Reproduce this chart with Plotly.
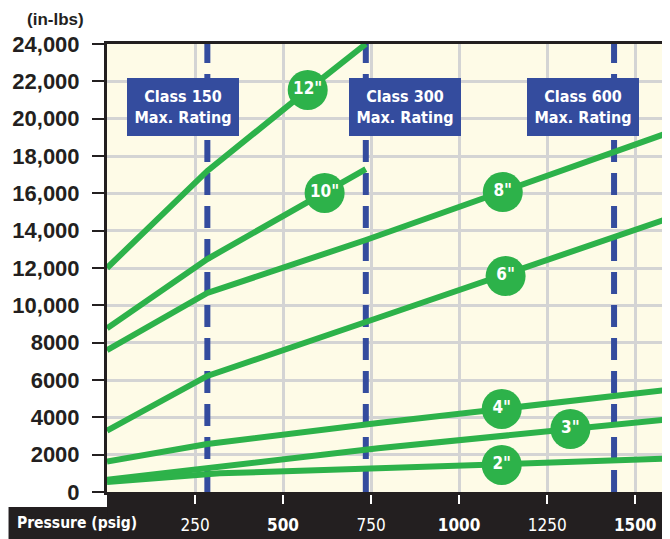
import plotly.graph_objects as go

# ---------------- data ----------------
pressure_ticks = [250, 500, 750, 1000, 1250, 1500]
pressure_ticktext = ["250", "<b>500</b>", "750", "<b>1000</b>", "1250", "<b>1500</b>"]
torque_ticks = list(range(0, 24001, 2000))
torque_ticktext = ["0", "2000", "4000", "6000", "8000", "10,000", "12,000", "14,000",
                   "16,000", "18,000", "20,000", "22,000", "24,000"]

sizes = ['12"', '10"', '8"', '6"', '4"', '3"', '2"']
series_x = {
    '12"': [0, 285, 570, 735],
    '10"': [0, 285, 735],
    '8"': [0, 285, 735, 1580],
    '6"': [0, 285, 735, 1580],
    '4"': [0, 285, 770, 1580],
    '3"': [0, 320, 770, 1580],
    '2"': [0, 320, 770, 1580],
}
series_y = {
    '12"': [12000, 17200, 21540, 24000],
    '10"': [8770, 12480, 17300],
    '8"': [7600, 10660, 13500, 19150],
    '6"': [3285, 6215, 9107, 14560],
    '4"': [1625, 2570, 3700, 5440],
    '3"': [650, 1355, 2340, 3870],
    '2"': [540, 1000, 1270, 1780],
}
label_x = [570, 618, 1124, 1132, 1121, 1316, 1121]
label_y = [21540, 16020, 16070, 11570, 4450, 3375, 1450]

class_names = ["Class 150", "Class 300", "Class 600"]
class_pressure = [285, 735, 1440]
class_box_x = [216, 847, 1353]
class_box_y = 20620

# ---------------- style ----------------
GREEN = "#2DB24A"
BLUE = "#344C9E"
CREAM = "#FEFBE7"
GRID = "#D4D4D4"
DARK = "#231F20"
NARROW = "DejaVu Sans Condensed, DejaVu Sans, sans-serif"
WIDE = "Liberation Sans, Arial, sans-serif"

# page has an 8px body margin: figure is drawn 8px right/down
OFF = 8
W, H = 670 - OFF, 539 - OFF
L, R, T, B = 107 - OFF, 4, 44 - OFF, 539 - 492
pw, ph = W - L - R, H - T - B


def px_x(px):  # reference-page pixel -> paper fraction
    return (px - OFF - L) / pw


def px_y(py):
    return (H - B - (py - OFF)) / ph


fig = go.Figure()

for p in class_pressure:
    fig.add_trace(go.Scatter(x=[p, p], y=[0, 24000], mode="lines",
                             line=dict(color=BLUE, width=6, dash="22px,11px"),
                             hoverinfo="skip", showlegend=False))

for s in sizes:
    fig.add_trace(go.Scatter(x=series_x[s], y=series_y[s], mode="lines",
                             line=dict(color=GREEN, width=6), name=s, showlegend=False))

fig.add_trace(go.Scatter(x=label_x, y=label_y, mode="markers+text", text=sizes,
                         textposition="middle center",
                         marker=dict(size=40, color=GREEN, line=dict(width=0)),
                         textfont=dict(family=NARROW, size=17, color="white", weight=700),
                         showlegend=False, hoverinfo="skip"))

for name, bx in zip(class_names, class_box_x):
    fig.add_annotation(x=bx, y=class_box_y, xref="x", yref="y",
                       text=f"{name}<br>Max. Rating", showarrow=False,
                       font=dict(family=NARROW, size=16, color="white", weight=700),
                       bgcolor=BLUE, bordercolor=BLUE, borderwidth=1, borderpad=0,
                       width=110, height=56, align="center")

fig.add_shape(type="rect", xref="paper", yref="paper", layer="below",
              x0=0, x1=px_x(675), y0=px_y(545), y1=0,
              fillcolor=DARK, line=dict(width=0))
fig.add_shape(type="rect", xref="paper", yref="paper", layer="below",
              x0=px_x(8), x1=0.001, y0=px_y(545), y1=px_y(507),
              fillcolor=DARK, line=dict(width=0))

fig.add_annotation(xref="paper", yref="paper", x=px_x(77), y=px_y(523),
                   text="Pressure (psig)", showarrow=False,
                   font=dict(family=NARROW, size=15.5, color="white", weight=700),
                   xanchor="center", yanchor="middle")
fig.add_annotation(xref="paper", yref="paper", x=px_x(86), y=px_y(19),
                   text="(in-lbs)", showarrow=False,
                   font=dict(family=WIDE, size=17, color=DARK, weight=700),
                   xanchor="right", yanchor="middle")

fig.update_xaxes(range=[0, 1579], tickvals=pressure_ticks, ticktext=pressure_ticktext,
                 ticks="outside", ticklen=9, tickwidth=2, tickcolor="white",
                 tickfont=dict(family=NARROW, size=17, color="white"),
                 ticklabelstandoff=7,
                 showgrid=True, gridcolor=GRID, gridwidth=2.5, zeroline=False,
                 showline=True, linecolor=DARK, linewidth=3, mirror=True)
fig.update_yaxes(range=[0, 24000], tickvals=torque_ticks, ticktext=torque_ticktext,
                 ticks="outside", ticklen=12, tickwidth=2, tickcolor=DARK,
                 tickfont=dict(family=WIDE, size=22, color=DARK, weight=700),
                 ticklabelstandoff=8,
                 showgrid=True, gridcolor=GRID, gridwidth=2.5, zeroline=False,
                 showline=True, linecolor=DARK, linewidth=3, mirror=True)

fig.update_layout(width=W, height=H, margin=dict(l=L, r=R, t=T, b=B, pad=0),
                  plot_bgcolor=CREAM, paper_bgcolor="white", showlegend=False)

fig.write_html("out.html")
